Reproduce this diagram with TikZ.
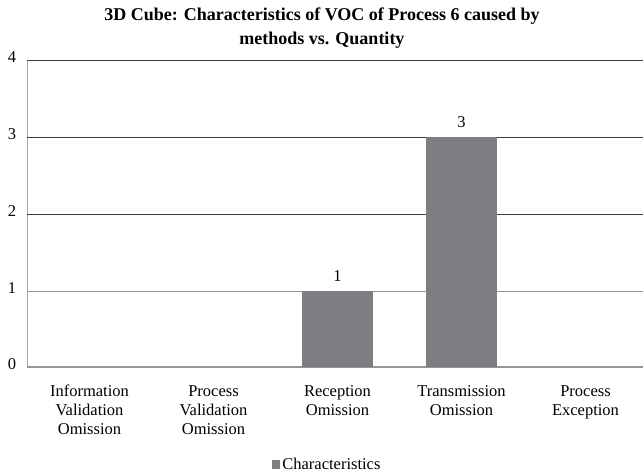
\documentclass[tikz,border=0pt]{standalone}
\usepackage{fontspec}
\setmainfont{Liberation Serif}
\definecolor{barfill}{RGB}{125,126,131}
\definecolor{gridA}{RGB}{60,60,60}
\definecolor{gridB}{RGB}{150,150,150}
\definecolor{axisgray}{RGB}{170,170,170}
\begin{document}
\begin{tikzpicture}[x=1pt,y=-1pt,
  barbox/.style={fill=barfill,draw=none,minimum width=71pt,inner sep=0pt,anchor=south},
  ticklab/.style={font=\fontsize{16.5}{16.5}\selectfont,anchor=center,inner sep=0pt},
  catlab/.style={font=\fontsize{16.5}{19}\selectfont,align=center,anchor=north,inner sep=0pt},
  vallab/.style={font=\fontsize{16.5}{16.5}\selectfont,anchor=south,inner sep=0pt},
  gridline/.style={line width=1pt}]
\useasboundingbox (0,0) rectangle (643,475);
\fill[white] (0,0) rectangle (643,475);

% title
\node[font=\bfseries\fontsize{18}{24}\selectfont,align=center,inner sep=0pt] (title) at (322,28)
  {3D Cube: Characteristics of VOC of Process 6 caused by\\methods vs. Quantity};

% value axis and gridlines
\coordinate (axtop) at (27,60);
\coordinate (axbot) at (27,367);
\draw[axisgray,line width=1pt] (axtop) -- (axbot);
\foreach \v/\yy/\col in {4/60/gridA,3/137/gridA,2/214/gridA,1/291/gridB,0/367/gridB}{
  \coordinate (g\v) at (27,\yy);
  \coordinate (ge\v) at (643,\yy);
  \draw[gridline,\col] (g\v) -- (ge\v);
  \node[ticklab] (t\v) at (12,\yy-3) {\v};
}
\draw[gridB,line width=1.6pt] (g0) -- (ge0);

% bars
\node[barbox,minimum height=76pt] (bar3) at (337.5,367) {};
\node[barbox,minimum height=230pt] (bar4) at (461.5,367) {};
\node[vallab] (v3) at ([yshift=8.5pt]bar3.north) {1};
\node[vallab] (v4) at ([yshift=8.5pt]bar4.north) {3};

% category labels
\node[catlab] (c1) at (89.5,385) {Information\\Validation\\Omission};
\node[catlab] (c2) at (213.5,385) {Process\\Validation\\Omission};
\node[catlab] (c3) at (337.5,385) {Reception\\Omission};
\node[catlab] (c4) at (461.5,385) {Transmission\\Omission};
\node[catlab] (c5) at (585.5,385) {Process\\Exception};

% legend
\node[fill=barfill,minimum width=8pt,minimum height=9pt,inner sep=0pt] (key) at (276,464) {};
\node[font=\fontsize{16.5}{16.5}\selectfont,anchor=west,inner sep=0pt] (keylab) at ([xshift=2pt]key.east) {Characteristics};
\end{tikzpicture}
\end{document}
